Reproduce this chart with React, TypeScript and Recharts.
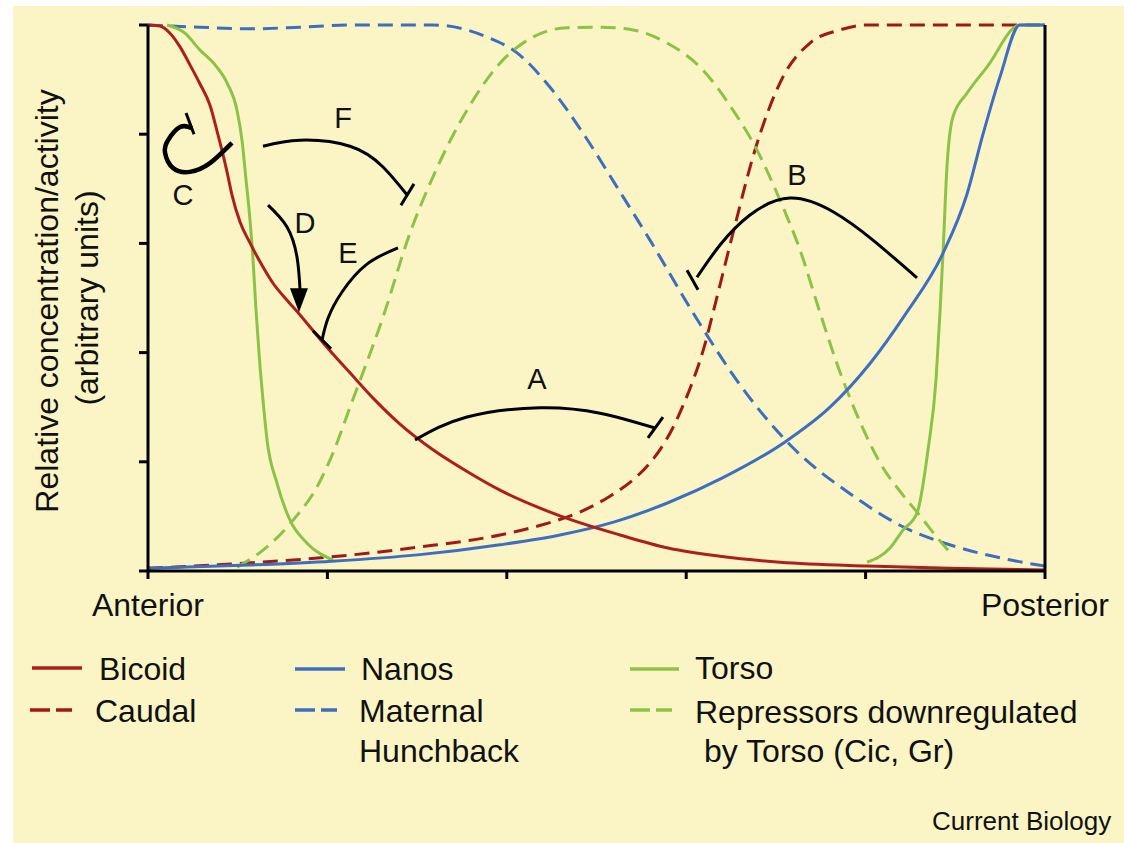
import React from 'react'
import {
  ComposedChart, Line, XAxis, YAxis, ReferenceLine, ReferenceDot,
} from 'recharts'

// position along embryo (0 = anterior, 100 = posterior) vs relative level (0..1)
const bicoid: [number, number][] = [
  [0, 1], [1.34, 0.998], [2.45, 0.985], [3.57, 0.96], [4.68, 0.927], [5.8, 0.892],
  [6.91, 0.853], [7.8, 0.799], [8.81, 0.731], [9.36, 0.689], [10.26, 0.639],
  [11.37, 0.601], [12.71, 0.56], [13.94, 0.527], [15.5, 0.496], [16.95, 0.469],
  [19.73, 0.414], [22.52, 0.363], [25.31, 0.313], [28.09, 0.269], [31.77, 0.222],
  [35.9, 0.179], [39.24, 0.148], [45.93, 0.101], [52.62, 0.066], [57.97, 0.042],
  [63.77, 0.027], [70.46, 0.016], [80.16, 0.009], [89.41, 0.005], [100, 0.002],
]
const caudal: [number, number][] = [
  [0, 0.005], [11.37, 0.015], [20.51, 0.026], [30.32, 0.044], [39.24, 0.066],
  [44.26, 0.086], [48.16, 0.108], [51.5, 0.137], [54.29, 0.17], [55.8, 0.195],
  [57.2, 0.225], [58.5, 0.262], [59.7, 0.305], [60.9, 0.355], [62.0, 0.41],
  [62.99, 0.473], [65.22, 0.619], [67.67, 0.771], [70.79, 0.905], [73.8, 0.967],
  [77.15, 0.991], [80.16, 1], [100, 1],
]
const nanos: [number, number][] = [
  [0, 0.005], [11.37, 0.011], [20.51, 0.018], [30.32, 0.03], [39.24, 0.048],
  [45.93, 0.066], [52.0, 0.09], [57.97, 0.125], [63.99, 0.17], [70.9, 0.235],
  [76.03, 0.3], [80.49, 0.38], [84.39, 0.469], [88.63, 0.582], [91.3, 0.69],
  [93.09, 0.8], [94.98, 0.905], [97.21, 1], [100, 1],
]
const hunchback: [number, number][] = [
  [0, 1], [5.8, 0.996], [11.37, 0.993], [16.95, 0.996], [22.52, 1], [31.77, 1],
  [37.79, 0.978], [41.14, 0.949], [44.82, 0.886], [48.49, 0.802], [52.29, 0.703],
  [55.96, 0.606], [60.76, 0.473], [66.0, 0.341], [72.13, 0.222], [78.15, 0.143],
  [84.17, 0.081], [90.19, 0.044], [96.21, 0.02], [100, 0.009],
]
const torsoAnterior: [number, number][] = [
  [2.12, 1], [4.12, 0.985], [5.8, 0.954], [7.47, 0.927], [8.81, 0.894], [9.92, 0.844],
  [10.48, 0.789], [10.93, 0.716], [11.37, 0.643], [11.71, 0.57], [12.04, 0.478],
  [12.49, 0.374], [12.82, 0.313], [13.27, 0.24], [14.38, 0.161], [15.83, 0.093],
  [17.73, 0.051], [20.62, 0.02],
]
const torsoPosterior: [number, number][] = [
  [80.16, 0.016], [82.72, 0.042], [84.17, 0.075], [85.73, 0.106], [86.96, 0.222],
  [87.85, 0.35], [88.29, 0.473], [88.63, 0.582], [89.07, 0.74], [89.74, 0.832],
  [91.3, 0.875], [93.53, 0.923], [97.21, 1], [100, 1],
]
const repressors: [number, number][] = [
  [9.92, 0.007], [13.27, 0.044], [16.17, 0.093], [18.84, 0.154], [20.62, 0.216],
  [22.52, 0.3], [26.2, 0.465], [29.21, 0.619], [31.77, 0.722], [35.56, 0.844],
  [39.24, 0.93], [42.92, 0.978], [46.71, 0.995], [50.39, 0.996], [54.07, 0.991],
  [57.86, 0.967], [61.54, 0.923], [65.22, 0.844], [67.89, 0.771], [70.46, 0.679],
  [72.69, 0.588], [74.92, 0.473], [77.15, 0.364], [79.38, 0.273], [81.61, 0.198],
  [84.17, 0.139], [86.18, 0.099], [87.74, 0.066], [89.19, 0.038],
]

// interaction arrows, same data units
const arcA: [number, number][] = [[29.77, 0.24], [35.56, 0.282], [43.7, 0.299], [50.39, 0.289], [56.52, 0.262]]
const barA: [number, number][] = [[55.74, 0.244], [57.41, 0.282]]
const arcB: [number, number][] = [[85.73, 0.537], [80.82, 0.606], [76.37, 0.658], [71.57, 0.683], [67.11, 0.652], [63.77, 0.597], [61.2, 0.538]]
const barB: [number, number][] = [[60.09, 0.551], [61.32, 0.515]]
const arcC: [number, number][] = [[9.36, 0.784], [6.91, 0.747], [4.68, 0.731], [2.79, 0.738], [1.9, 0.766], [2.23, 0.789], [3.57, 0.813], [4.91, 0.811]]
const barC: [number, number][] = [[4.24, 0.839], [5.13, 0.8]]
const arcD: [number, number][] = [[13.38, 0.67], [15.5, 0.63], [16.61, 0.575], [16.95, 0.515]]
const headD: [number, number] = [16.83, 0.496]
const arcE: [number, number][] = [[27.87, 0.592], [24.41, 0.562], [21.63, 0.511], [20.07, 0.463], [19.4, 0.423]]
const barE: [number, number][] = [[18.39, 0.44], [20.4, 0.407]]
const arcF: [number, number][] = [[12.82, 0.778], [16.95, 0.789], [22.52, 0.778], [26.2, 0.74], [28.87, 0.689]]
const barF: [number, number][] = [[28.2, 0.67], [29.65, 0.709]]

const xTicks = [0, 20, 40, 60, 80, 100]
const yTicks = [0, 0.2, 0.4, 0.6, 0.8, 1]
const xTickLabels: Record<number, string> = { 0: 'Anterior', 100: 'Posterior' }

const FONT = '"Liberation Sans", Arial, Helvetica, sans-serif'
const RED = '#ad1f1c'
const DARKRED = '#9e1a1a'
const BLUE = '#3d6ebf'
const GREEN = '#8cc346'
const BG = '#fbf5c6'
const DASH = '15 8'

const pts = (a: [number, number][]) => a.map(([x, y]) => ({ x, y }))

const torso = [...pts(torsoAnterior), { x: 50, y: null }, ...pts(torsoPosterior)]

const axisStyle = { stroke: '#000', strokeWidth: 3 }

export default function App() {
  const arc = (d: [number, number][], w = 3) => (
    <Line data={pts(d)} dataKey="y" type="natural" stroke="#000" strokeWidth={w} dot={false}
      isAnimationActive={false} legendType="none" />
  )
  const bar = (d: [number, number][]) => (
    <ReferenceLine segment={pts(d)} stroke="#000" strokeWidth={3} />
  )

  return (
    <div style={{ position: 'absolute', left: 0, top: 0, width: 1124, height: 843, background: '#fff', overflow: 'hidden', fontFamily: FONT }}>
      <div style={{ position: 'absolute', left: 13, top: 6, width: 1111, height: 837, background: BG }} />
      <div style={{ position: 'absolute', left: 0, top: 0 }}>
        <ComposedChart width={1124} height={640} margin={{ top: 25, right: 59, bottom: 9, left: 128 }}>
          <XAxis dataKey="x" type="number" domain={[0, 100]} ticks={xTicks} interval={0} height={60}
            axisLine={axisStyle} tickLine={axisStyle} tickSize={8} tickMargin={14}
            tickFormatter={(v) => xTickLabels[v] ?? ''}
            tick={{ fill: '#111', fontSize: 32, fontFamily: FONT }} />
          <YAxis type="number" domain={[0, 1]} ticks={yTicks} width={20}
            axisLine={axisStyle} tickLine={axisStyle} tickSize={9} tickFormatter={() => ''} />
          <YAxis yAxisId="right" orientation="right" type="number" domain={[0, 1]} ticks={yTicks} width={20}
            axisLine={axisStyle} tickLine={axisStyle} tickSize={8} tickFormatter={() => ''} />

          <Line data={pts(hunchback)} dataKey="y" type="monotone" stroke={BLUE} strokeWidth={3}
            strokeDasharray={DASH} dot={false} isAnimationActive={false} />
          <Line data={pts(caudal)} dataKey="y" type="monotone" stroke={DARKRED} strokeWidth={3}
            strokeDasharray={DASH} dot={false} isAnimationActive={false} />
          <Line data={pts(repressors)} dataKey="y" type="monotone" stroke={GREEN} strokeWidth={3}
            strokeDasharray={DASH} dot={false} isAnimationActive={false} />
          <Line data={torso} dataKey="y" type="monotone" stroke={GREEN} strokeWidth={3}
            dot={false} connectNulls={false} isAnimationActive={false} />
          <Line data={pts(nanos)} dataKey="y" type="monotone" stroke={BLUE} strokeWidth={3}
            dot={false} isAnimationActive={false} />
          <Line data={pts(bicoid)} dataKey="y" type="monotone" stroke={RED} strokeWidth={3}
            dot={false} isAnimationActive={false} />

          {arc(arcA)}
          {bar(barA)}
          {arc(arcB)}
          {bar(barB)}
          {arc(arcC, 4.5)}
          {bar(barC)}
          {arc(arcD)}
          <ReferenceDot x={headD[0]} y={headD[1]} r={1}
            shape={(p: any) => (
              <path d={`M${p.cx - 9},${p.cy - 12}L${p.cx + 9},${p.cy - 12}L${p.cx},${p.cy + 12}Z`} fill="#000" />
            )} />
          {arc(arcE)}
          {bar(barE)}
          {arc(arcF)}
          {bar(barF)}
        </ComposedChart>
      </div>

      <svg width={1124} height={843} style={{ position: 'absolute', left: 0, top: 0, pointerEvents: 'none' }}
        fontFamily={FONT} fill="#111">
        <text transform="translate(58,301) rotate(-90)" textAnchor="middle" fontSize={32}>
          Relative concentration/activity
        </text>
        <text transform="translate(98,298) rotate(-90)" textAnchor="middle" fontSize={32}>
          (arbitrary units)
        </text>

        <g fontSize={29} textAnchor="middle">
          <text x={537} y={389}>A</text>
          <text x={797} y={185}>B</text>
          <text x={183} y={205}>C</text>
          <text x={305} y={233}>D</text>
          <text x={348} y={263}>E</text>
          <text x={343} y={128}>F</text>
        </g>

        <g strokeWidth={3.5}>
          <line x1={32} y1={668} x2={82} y2={668} stroke={RED} />
          <line x1={30} y1={710} x2={72} y2={710} stroke={DARKRED} strokeDasharray="20 6" />
          <line x1={295} y1={669} x2={345} y2={669} stroke={BLUE} />
          <line x1={295} y1={710} x2={337} y2={710} stroke={BLUE} strokeDasharray="20 6" />
          <line x1={630} y1={669} x2={679} y2={669} stroke={GREEN} />
          <line x1={630} y1={710} x2={672} y2={710} stroke={GREEN} strokeDasharray="20 6" />
        </g>
        <g fontSize={32}>
          <text x={99} y={680}>Bicoid</text>
          <text x={95} y={722}>Caudal</text>
          <text x={361} y={680}>Nanos</text>
          <text x={359} y={722}>Maternal</text>
          <text x={359} y={762}>Hunchback</text>
          <text x={695} y={679}>Torso</text>
          <text x={695} y={723}>Repressors downregulated</text>
          <text x={704} y={762}>by Torso (Cic, Gr)</text>
        </g>
        <text x={932} y={830} fontSize={26}>Current Biology</text>
      </svg>
    </div>
  )
}
